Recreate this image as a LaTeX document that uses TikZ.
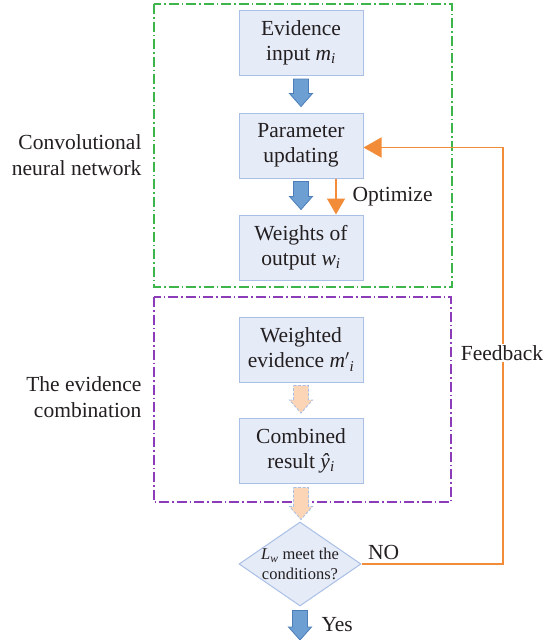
\documentclass[tikz,border=0pt]{standalone}
\usepackage{fontspec}
\setmainfont{Liberation Serif}
\usetikzlibrary{shapes.geometric,arrows.meta,calc}
\definecolor{boxfill}{HTML}{E6EBF8}
\definecolor{boxdraw}{HTML}{A9BFE6}
\definecolor{barrow}{HTML}{6E9FD3}
\definecolor{barrowd}{HTML}{4B7EB8}
\definecolor{peach}{HTML}{FBD5B5}
\definecolor{orng}{HTML}{F28C38}
\definecolor{grn}{HTML}{3DB54A}
\definecolor{purp}{HTML}{8D3CB9}
\definecolor{txt}{HTML}{231F20}
\newcommand\blockarrow[3]{\path[#1] let \p1=(#2), \p2=(#3) in
  (\x1-7.5pt,\y1) -- (\x1+7.5pt,\y1) -- (\x1+7.5pt,\y2+13pt) -- (\x1+11.5pt,\y2+13pt)
  -- (\x1,\y2) -- (\x1-11.5pt,\y2+13pt) -- (\x1-7.5pt,\y2+13pt) -- cycle;}
\begin{document}
\begin{tikzpicture}[x=1pt,y=-1pt,
 procbox/.style={draw=boxdraw, fill=boxfill, line width=1pt, minimum width=124pt, minimum height=65pt, align=center, font=\fontsize{21.5}{25}\selectfont, text=txt, inner sep=0pt},
 grp/.style={line width=1.2pt, dash pattern=on 10pt off 3pt on 1.5pt off 3pt},
 lbl/.style={font=\fontsize{21.5}{25.5}\selectfont, text=txt},
 bluearrow/.style={fill=barrow, draw=barrowd, line width=0.8pt},
 peacharrow/.style={fill=peach, draw=boxdraw, line width=0.8pt, dash pattern=on 3pt off 1.5pt},
 fb/.style={draw=orng, line width=1.5pt}]
\useasboundingbox (0,0) rectangle (550,640);
\draw[grp, grn] (154,4) rectangle (452,287);
\draw[grp, purp] (154,297) rectangle (451,502);

\node[procbox] (ei) at (301,43) {Evidence\\input \textit{m}\textsubscript{\textit{i}}};
\node[procbox] (pu) at (301,145.5) {Parameter\\updating};
\node[procbox] (wo) at (301,247.5) {Weights of\\output \textit{w}\textsubscript{\textit{i}}};
\node[procbox] (we) at (301,349.5) {Weighted\\evidence \textit{m}$'$\textsubscript{\textit{i}}};
\node[procbox] (cr) at (301,451) {Combined\\result \textit{ŷ}\textsubscript{\textit{i}}};
\node[diamond, draw=boxdraw, fill=boxfill, line width=1pt, minimum width=122pt, minimum height=84pt, inner sep=0pt,
  label={[font=\fontsize{16.5}{19.5}\selectfont, text=txt, align=center]center:\textit{L}\textsubscript{\textit{w}} meet the\\conditions?}] (dia) at (300,564) {};
\coordinate (yesend) at (300,640);
\coordinate (fbc) at (503,0);

\blockarrow{bluearrow}{$(ei.south)+(0,3)$}{$(pu.north)+(0,-6)$}
\blockarrow{bluearrow}{$(pu.south)+(0,3)$}{$(wo.north)+(0,-5)$}
\blockarrow{peacharrow}{$(we.south)+(0,3)$}{$(cr.north)+(0,-5)$}
\blockarrow{peacharrow}{$(cr.south)+(0,3.5)$}{$(dia.north)+(0,-2)$}
\blockarrow{bluearrow}{$(dia.south)+(0,4)$}{yesend}

\draw[fb, -{Triangle[length=16pt,width=18pt]}] ($(pu.south)+(35,0)$) -- ($(wo.north)+(35,0)$);
\draw[fb, -{Triangle[length=18pt,width=20pt]}] (dia.east) -- (dia.east -| fbc) -- ($(fbc |- pu.east)+(0,2)$) -- ($(pu.east)+(0,2)$);

\node[lbl, anchor=west] (opt) at (349,197) {Optimize};
\node[lbl, fill=white, inner sep=1pt] (fbl) at (502,353) {Feedback};
\node[lbl, anchor=west] (no) at ($(dia.east)+(3,-12)$) {NO};
\node[lbl, anchor=west] (yes) at (318,625) {Yes};
\node[lbl, align=right, anchor=east] (cnn) at (145,155) {Convolutional\\neural network};
\node[lbl, align=right, anchor=east] (ec) at (145,397) {The evidence\\combination};
\end{tikzpicture}
\end{document}
